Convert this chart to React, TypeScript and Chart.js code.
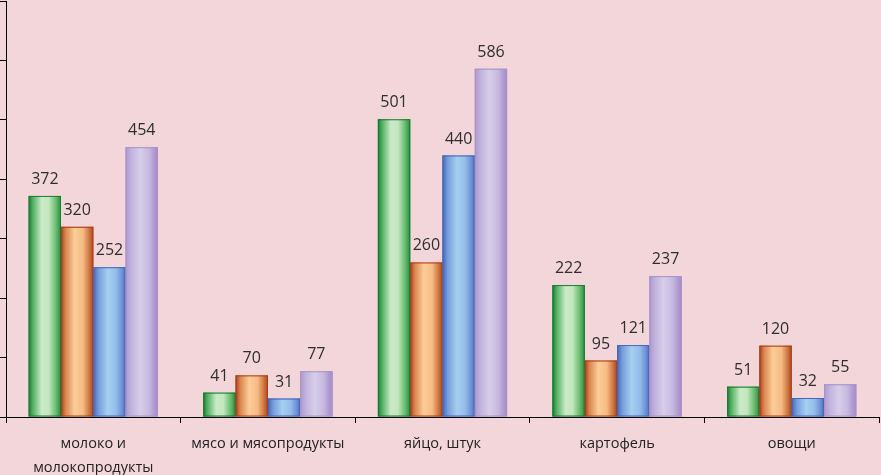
import React, { useEffect, useRef } from "react";
import { Chart, registerables } from "chart.js";

Chart.register(...registerables);

const categories: (string | string[])[] = [
  ["молоко и", "молокопродукты"],
  "мясо и мясопродукты",
  "яйцо, штук",
  "картофель",
  "овощи",
];
const series1 = [372, 41, 501, 222, 51];
const series2 = [320, 70, 260, 95, 120];
const series3 = [252, 31, 440, 121, 32];
const series4 = [454, 77, 586, 237, 55];
const seriesNames = ["Ряд 1", "Ряд 2", "Ряд 3", "Ряд 4"];
const yMin = 0;
const yMax = 700;
const yStep = 100;

const barStyles = [
  {
    base: "#2a9040",
    border: "#1d7a33",
    stops: [
      [0, "#17772f"],
      [0.12, "#4fae5f"],
      [0.4, "#c9eac6"],
      [0.62, "#c4e7bf"],
      [0.86, "#62b86a"],
      [1, "#278c3c"],
    ],
  },
  {
    base: "#c8703a",
    border: "#a8401f",
    stops: [
      [0, "#a53c1e"],
      [0.14, "#d9854e"],
      [0.42, "#fccd98"],
      [0.68, "#f6bb84"],
      [0.88, "#cc7440"],
      [1, "#a9471f"],
    ],
  },
  {
    base: "#5a7fc8",
    border: "#4667b8",
    stops: [
      [0, "#4565b8"],
      [0.16, "#769dda"],
      [0.45, "#a6cff0"],
      [0.7, "#95bdea"],
      [0.9, "#6a8fd4"],
      [1, "#4a6abc"],
    ],
  },
  {
    base: "#b8a4d4",
    border: "#a892c8",
    stops: [
      [0, "#ac98cc"],
      [0.18, "#c2b3de"],
      [0.45, "#d6cee9"],
      [0.72, "#c7b9e0"],
      [0.9, "#ae98cf"],
      [1, "#a48ec6"],
    ],
  },
];

const barPlugin = {
  id: "gradBars",
  afterDatasetsDraw(chart: any) {
    const ctx = chart.ctx as CanvasRenderingContext2D;
    const labels: { x: number; y: number; t: string }[] = [];
    chart.data.datasets.forEach((ds: any, i: number) => {
      const meta = chart.getDatasetMeta(i);
      const st = barStyles[i];
      meta.data.forEach((el: any, j: number) => {
        const { x, y, base, width } = el.getProps(["x", "y", "base", "width"], true);
        const left = x - width / 2;
        const g = ctx.createLinearGradient(left, 0, left + width, 0);
        st.stops.forEach(([o, c]) => g.addColorStop(o as number, c as string));
        ctx.save();
        ctx.fillStyle = g;
        ctx.fillRect(left, y, width, base - y);
        ctx.strokeStyle = st.border;
        ctx.lineWidth = 1;
        ctx.strokeRect(left + 0.5, y + 0.5, width - 1, base - y - 1);
        ctx.restore();
        labels.push({ x, y, t: String(ds.data[j]) });
      });
    });
    ctx.save();
    ctx.fillStyle = "#2e2e2e";
    ctx.font = '16px "Open Sans"';
    ctx.textAlign = "center";
    ctx.textBaseline = "alphabetic";
    labels.forEach((l) => ctx.fillText(l.t, l.x, l.y - 12));
    ctx.restore();
  },
};

export default function App() {
  const ref = useRef<HTMLCanvasElement | null>(null);
  useEffect(() => {
    if (!ref.current) return;
    const datasets = [series1, series2, series3, series4].map((d, i) => ({
      label: seriesNames[i],
      data: d,
      backgroundColor: barStyles[i].base,
      borderWidth: 0,
      categoryPercentage: 0.74,
      barPercentage: 1.0,
    }));
    const chart = new Chart(ref.current, {
      type: "bar",
      data: { labels: categories, datasets },
      options: {
        animation: false,
        responsive: true,
        maintainAspectRatio: false,
        layout: { padding: { top: 1, left: 0, right: 2, bottom: 0 } },
        plugins: { legend: { display: false }, tooltip: { enabled: false } },
        scales: {
          x: {
            grid: {
              display: true,
              drawOnChartArea: false,
              drawTicks: true,
              tickLength: 6,
              color: "#000",
              offset: true,
            },
            border: { display: true, color: "#000", width: 1 },
            ticks: {
              color: "#222",
              padding: 9,
              maxRotation: 0,
              autoSkip: false,
              font: { family: "Open Sans", size: 14.5, lineHeight: 1.65 },
            },
            afterFit: (s: any) => {
              s.height = 58;
            },
          },
          y: {
            min: yMin,
            max: yMax,
            ticks: { display: false, stepSize: yStep },
            grid: {
              display: true,
              drawOnChartArea: false,
              drawTicks: true,
              tickLength: 6,
              color: "#000",
            },
            border: { display: true, color: "#000", width: 1 },
            afterFit: (s: any) => {
              s.width = 6;
            },
          },
        },
      },
      plugins: [barPlugin],
    });
    return () => chart.destroy();
  }, []);
  return (
    <div
      style={{
        position: "absolute",
        left: 0,
        top: 0,
        width: 881,
        height: 475,
        background: "#F2D6DA",
      }}
    >
      <canvas ref={ref} />
    </div>
  );
}
